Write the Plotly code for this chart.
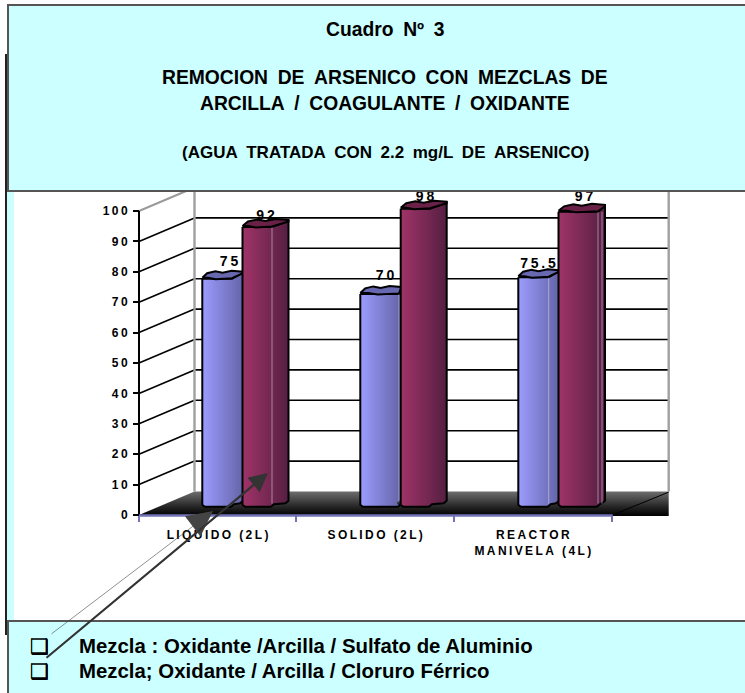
import plotly.graph_objects as go

# Chart data
categories = ["LIQUIDO (2L)", "SOLIDO (2L)", "REACTOR\nMANIVELA (4L)"]
sulfato = [75, 70, 75.5]
cloruro = [92, 98, 97]
y_ticks = [0, 10, 20, 30, 40, 50, 60, 70, 80, 90, 100]

title_lines = [
    ("Cuadro Nº 3", 30, 19.3),
    ("REMOCION DE ARSENICO CON MEZCLAS DE", 78, 19.3),
    ("ARCILLA / COAGULANTE / OXIDANTE", 104, 19.3),
    ("(AGUA TRATADA CON 2.2 mg/L DE ARSENICO)", 153, 17),
]
legend_lines = [
    ("Mezcla : Oxidante /Arcilla / Sulfato de Aluminio", 646),
    ("Mezcla; Oxidante / Arcilla / Cloruro Férrico", 671),
]

# Page and scale geometry (pixels)
W, H = 745, 693
Y0_PX = 515.0
PX_PER_UNIT = 3.04
GROUP0_PX = 217.5
GROUP_STEP = 157.67
FRONT_L, FRONT_R = 139.0, 612.7
BACK_L, BACK_R = 194.5, 668.7
BACK_LIFT = 23.5
BAR_LIFT = 8.3
FONT = "Liberation Sans"

BLUE = ["#9c9cff", "#6464a8"]
RED = ["#a03468", "#551f42"]
BLUE_TOP, RED_TOP = "#6868b0", "#6a2148"


def ux(px):
    return (px - GROUP0_PX) / GROUP_STEP


def uy(px):
    return px / PX_PER_UNIT


def spaced(text, gap="\u2009"):
    return gap.join(text)


def poly(xs_px, ys, **kw):
    return go.Scatter(x=[ux(v) for v in xs_px], y=ys, mode="lines",
                      hoverinfo="skip", showlegend=False, **kw)


fig = go.Figure()

# Floor of the 3D box
back0 = uy(BACK_LIFT)
fig.add_trace(poly(
    [FRONT_L, BACK_L, BACK_R, BACK_R, FRONT_L],
    [0, back0, back0, -0.35, -0.35],
    fill="toself", line=dict(width=0, color="rgba(0,0,0,0)"),
    fillgradient=dict(type="vertical",
                      colorscale=[[0, "#000000"], [0.35, "#222222"], [1, "#6e6e6e"]]),
))
fig.add_trace(poly([FRONT_R, BACK_R], [0, back0 - 0.2], line=dict(color="#000000", width=1)))

# Side wall and back wall grid
for v in y_ticks[1:]:
    colour, width = ("#9a9a9a", 2) if v == 100 else ("#000000", 1.6)
    fig.add_trace(poly([FRONT_L, BACK_L], [v, v + back0], line=dict(color=colour, width=width)))
    fig.add_trace(poly([BACK_L, BACK_R], [v + back0, v + back0], line=dict(color=colour, width=width)))
for xp in (BACK_L, BACK_R):
    fig.add_trace(poly([xp, xp], [back0, 100 + back0], line=dict(color="#a0a0a0", width=2.4)))
fig.add_trace(poly([FRONT_L, FRONT_L], [0, 100], line=dict(color="#000000", width=2)))
fig.add_trace(poly([FRONT_L, FRONT_R], [-0.2, -0.2], line=dict(color="#7272b4", width=2.5)))


def add_bar(value, left, front_right, right, colours, top_colour, faint=()):
    base = uy(BAR_LIFT)
    top = base + value
    drop = -value * PX_PER_UNIT
    # Body with its rounded foot
    xs = [left, left, left + 2.5, front_right - 1, front_right + 2, right - 3, right, right, front_right, left]
    off = [0, drop + 2, drop, drop, drop + 2.5, drop + 3.5, drop + 6, 6, 0, 0]
    ys = [top + uy(o) for o in off]
    fig.add_trace(poly(xs, ys, fill="toself", fillgradient=dict(
        type="horizontal", colorscale=[[0, colours[0]], [1, colours[1]]]),
        line=dict(color="#000000", width=2)))
    for xp in faint:
        fig.add_trace(poly([xp, xp], [base + uy(3), top], line=dict(color="rgba(215,215,235,0.55)", width=1)))
    # Wavy cap of the column
    width = right - left
    cap_x = [left, left + 0.12 * width, left + 0.32 * width, left + 0.5 * width,
             left + 0.72 * width, right, right, front_right, left + 0.45 * (front_right - left),
             left + 0.2 * (front_right - left), left]
    cap_up = [1, 5.5, 7.5, 6, 8, 7, 5.5, 0.5, -0.5, 1, 1]
    fig.add_trace(poly(cap_x, [top + uy(p) for p in cap_up], fill="toself",
                       fillcolor=top_colour, line=dict(color="#000000", width=2)))


def add_label(value, x_px, rise_px):
    y = uy(BAR_LIFT) + value + uy(rise_px)
    fig.add_trace(go.Scatter(
        x=[ux(x_px)], y=[y], mode="text", text=[spaced(str(value))],
        textposition="middle center", cliponaxis=False,
        textfont=dict(family=FONT, size=14, color="#000000", weight="bold"),
        hoverinfo="skip", showlegend=False))


# Columns for each category: first mixture behind, second mixture in front
add_bar(sulfato[0], 202.3, 232, 243, BLUE, BLUE_TOP)
add_bar(cloruro[0], 242.5, 272, 288.5, RED, RED_TOP, faint=[272])
add_bar(sulfato[1], 360.3, 399, 401, BLUE, BLUE_TOP, faint=[399])
add_bar(cloruro[1], 400.7, 430, 446.7, RED, RED_TOP)
add_bar(sulfato[2], 518.3, 548.7, 559, BLUE, BLUE_TOP, faint=[548.7])
add_bar(cloruro[2], 558.5, 598, 605, RED, RED_TOP, faint=[598, 602])

add_label(sulfato[0], 229, 16.5)
add_label(cloruro[0], 265.5, 10.5)
add_label(sulfato[1], 385, 17)
add_label(cloruro[1], 425, 11)
add_label(sulfato[2], 538, 12.5)
add_label(cloruro[2], 584, 14)

# Boxes around the title and the key
box_line = dict(color="#555555", width=2)
shapes = [
    dict(type="rect", xref="paper", yref="paper", x0=7 / W, x1=14 / W, y0=1 - 621 / H, y1=1 - 191 / H,
         fillcolor="#ccffff", line=dict(width=0), layer="below"),
    dict(type="line", xref="paper", yref="paper", x0=6 / W, x1=6 / W, y0=1 - 635 / H, y1=1 - 54 / H,
         line=dict(color="#222222", width=2), layer="above"),
    dict(type="rect", xref="paper", yref="paper", x0=8 / W, x1=760 / W, y0=1 - 191 / H, y1=1 - 5 / H,
         fillcolor="#ccffff", line=box_line, layer="above"),
    dict(type="rect", xref="paper", yref="paper", x0=8 / W, x1=760 / W, y0=1 - 710 / H, y1=1 - 621 / H,
         fillcolor="#ccffff", line=box_line, layer="above"),
]


def note(text, x_px, y_px, size, anchor="center", family=FONT, weight="bold"):
    return dict(xref="paper", yref="paper", x=x_px / W, y=1 - y_px / H, text=text, showarrow=False,
                xanchor=anchor, yanchor="middle",
                font=dict(family=family, size=size, color="#000000", weight=weight))


annotations = [note(t.replace(" ", "\u2002"), 385, y, s) for t, y, s in title_lines]
for text, y in legend_lines:
    # The bullet is struck twice, slightly offset, for its drop shadow
    annotations.append(note("❑", 39, y, 21, family="DejaVu Sans"))
    annotations.append(note("❑", 39.8, y + 0.8, 21, family="DejaVu Sans"))
    annotations.append(note(text, 76.5, y, 20.4, anchor="left"))


def arrow(x_from, y_from, x_to, y_to, width, size, colour):
    return dict(xref="paper", yref="paper", x=x_to / W, y=1 - y_to / H,
                axref="pixel", ayref="pixel", ax=x_from - x_to, ay=y_from - y_to, text="",
                showarrow=True, arrowhead=2, arrowsize=size, arrowwidth=width, arrowcolor=colour,
                standoff=0, startstandoff=0)


annotations.append(arrow(50, 635, 213, 511, 0.6, 8.5, "#444444"))
annotations.append(arrow(45, 659, 268, 473, 2.2, 1.7, "#333333"))

fig.update_layout(
    width=W, height=H, autosize=False, margin=dict(l=0, r=0, t=0, b=0, pad=0),
    paper_bgcolor="#ffffff", plot_bgcolor="rgba(0,0,0,0)", showlegend=False,
    shapes=shapes, annotations=annotations,
    xaxis=dict(
        range=[ux(0), ux(W)], domain=[0, 1], anchor="free", position=(H - Y0_PX) / H,
        tickmode="array", tickvals=[0, 1, 2],
        ticktext=[spaced(c).replace("\u2009\n\u2009", "<br>") for c in categories],
        ticks="", ticklabelstandoff=11, showgrid=False, zeroline=False, showline=False,
        tickfont=dict(family=FONT, size=12, color="#000000", weight="bold"),
        minor=dict(ticks="outside", ticklen=6, tickwidth=2, tickcolor="#7272b4",
                   tickmode="array", tickvals=[ux(139), ux(296), ux(454), ux(612)], showgrid=False),
    ),
    yaxis=dict(
        range=[(Y0_PX - H) / PX_PER_UNIT, Y0_PX / PX_PER_UNIT], domain=[0, 1], anchor="free",
        position=FRONT_L / W, side="left", tickmode="array", tickvals=y_ticks,
        ticktext=[spaced(str(t)) for t in y_ticks], ticks="outside", ticklen=6, tickwidth=2,
        tickcolor="#000000", showgrid=False, zeroline=False, showline=False, ticklabelstandoff=3,
        tickfont=dict(family=FONT, size=12, color="#000000", weight="bold"),
    ),
)

fig.write_html("out.html")
